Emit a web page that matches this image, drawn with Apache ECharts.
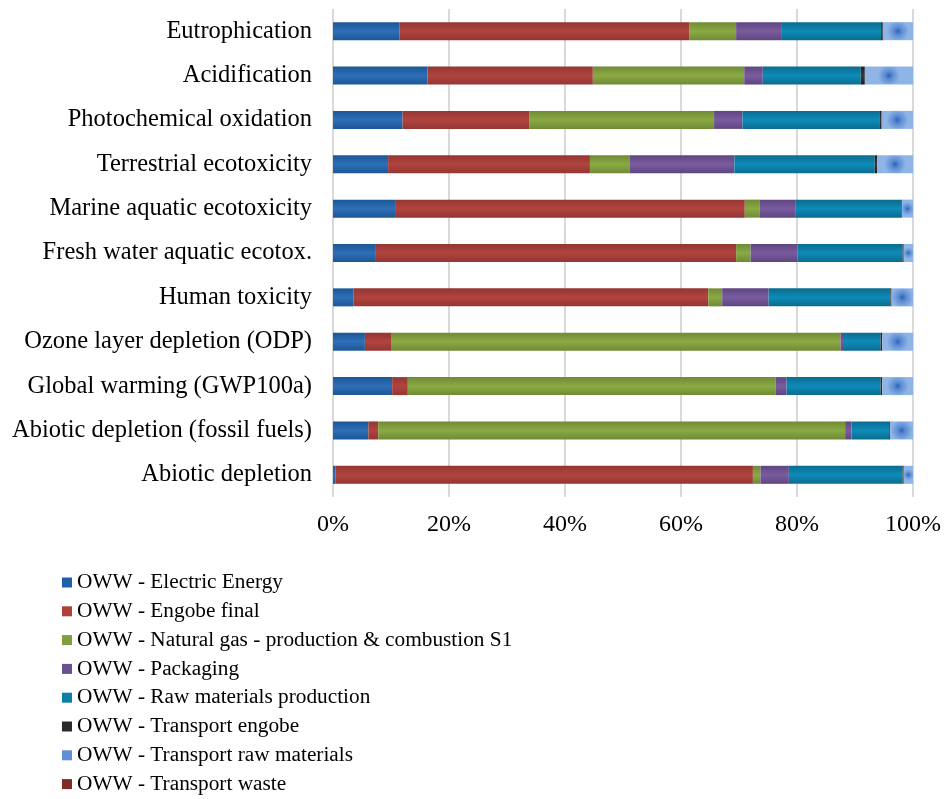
<!DOCTYPE html>
<html>
<head>
<meta charset="utf-8">
<script src="https://cdn.jsdelivr.net/npm/echarts@6/dist/echarts.min.js"></script>
<style>
  html, body { margin: 0; padding: 0; background: #ffffff; }
  #chart { width: 946px; height: 799px; }
</style>
</head>
<body>
<div id="chart"></div>
<script>
// Impact categories, listed top to bottom
const categories = [
  'Eutrophication',
  'Acidification',
  'Photochemical oxidation',
  'Terrestrial ecotoxicity',
  'Marine aquatic ecotoxicity',
  'Fresh water aquatic ecotox.',
  'Human toxicity',
  'Ozone layer depletion (ODP)',
  'Global warming (GWP100a)',
  'Abiotic depletion (fossil fuels)',
  'Abiotic depletion'
];

// Share (%) of each contributor per impact category
const electricEnergy      = [11.5, 16.3, 12.0,  9.5, 10.7,  7.4,  3.5,  5.5, 10.2,  6.1,  0.4];
const engobeFinal         = [49.9, 28.5, 21.9, 34.8, 60.3, 62.1, 61.2,  4.5,  2.7,  1.7, 72.0];
const naturalGas          = [ 8.1, 26.1, 31.8,  6.8,  2.6,  2.5,  2.4, 77.5, 63.4, 80.5,  1.3];
const packaging           = [ 7.9,  3.2,  4.9, 18.1,  6.2,  8.1,  8.0,  0.6,  1.9,  1.1,  4.9];
const rawMaterials        = [17.1, 16.9, 23.7, 24.2, 18.2, 18.1, 21.0,  6.3, 16.2,  6.5, 19.6];
const transportEngobe     = [ 0.3,  0.7,  0.3,  0.4,  0.1,  0.2,  0.2,  0.3,  0.3,  0.2,  0.2];
const transportRaw        = [ 5.2,  8.3,  5.4,  6.2,  1.9,  1.6,  3.7,  5.3,  5.3,  3.9,  1.6];
const transportWaste      = [ 0.0,  0.0,  0.0,  0.0,  0.0,  0.0,  0.0,  0.0,  0.0,  0.0,  0.0];

const xTickLabels = ['0%', '20%', '40%', '60%', '80%', '100%'];

const seriesDefs = [
  { name: 'OWW - Electric Energy', data: electricEnergy, edge: '#1c5796', mid: '#2e6fb8' },
  { name: 'OWW - Engobe final', data: engobeFinal, edge: '#943633', mid: '#b0443f' },
  { name: 'OWW - Natural gas - production & combustion S1', data: naturalGas, edge: '#708a34', mid: '#8aaa44' },
  { name: 'OWW - Packaging', data: packaging, edge: '#5e4681', mid: '#7a5c9e' },
  { name: 'OWW - Raw materials production', data: rawMaterials, edge: '#0b6c8f', mid: '#0e8bb8' },
  { name: 'OWW - Transport engobe', data: transportEngobe, edge: '#1e1e1e', mid: '#3a3a3a' },
  { name: 'OWW - Transport raw materials', data: transportRaw, edge: '#8fb4e6', mid: '#2f62b4', radial: true },
  { name: 'OWW - Transport waste', data: transportWaste, edge: '#7a2a28', mid: '#8e3431' }
];

function fillFor(d) {
  if (d.radial) {
    return {
      type: 'radial', x: 0.5, y: 0.5, r: 0.6,
      colorStops: [
        { offset: 0, color: d.mid },
        { offset: 0.35, color: '#5a8bd2' },
        { offset: 1, color: d.edge }
      ]
    };
  }
  return {
    type: 'linear', x: 0, y: 0, x2: 0, y2: 1,
    colorStops: [
      { offset: 0, color: d.edge },
      { offset: 0.5, color: d.mid },
      { offset: 1, color: d.edge }
    ]
  };
}

const series = seriesDefs.map(d => ({
  name: d.name,
  type: 'bar',
  stack: 'total',
  barWidth: 18,
  data: d.data,
  itemStyle: { color: fillFor(d) },
  emphasis: { disabled: true }
}));

const legendColors = ['#2060a8', '#b03e3a', '#7f9e3e', '#6b5090', '#0c7fa6', '#2a2a2a', '#5f8fd4', '#7e2b2a'];

const chart = echarts.init(document.getElementById('chart'), null, { renderer: 'canvas' });
chart.setOption({
  animation: false,
  backgroundColor: '#ffffff',
  textStyle: { fontFamily: 'Liberation Serif' },
  grid: { left: 333, right: 33, top: 9, bottom: 302, containLabel: false },
  xAxis: {
    type: 'value',
    min: 0,
    max: 100,
    interval: 20,
    axisLine: { show: false },
    axisTick: { show: false },
    splitLine: { show: true, lineStyle: { color: '#d9d9d9', width: 2 } },
    axisLabel: {
      margin: 16,
      fontSize: 24,
      color: '#000',
      fontFamily: 'Liberation Serif',
      formatter: v => xTickLabels[Math.round(v / 20)]
    }
  },
  yAxis: {
    type: 'category',
    inverse: true,
    data: categories,
    axisLine: { show: false },
    axisTick: { show: false },
    axisLabel: { margin: 21, fontSize: 24.5, color: '#000', fontFamily: 'Liberation Serif', padding: [4, 0, 0, 0] }
  },
  legend: {
    orient: 'vertical',
    left: 62,
    top: 572,
    padding: 0,
    itemWidth: 10,
    itemHeight: 10,
    itemGap: 7.8,
    icon: 'rect',
    textStyle: { fontSize: 21.3, color: '#000', fontFamily: 'Liberation Serif' },
    data: seriesDefs.map((d, i) => ({ name: d.name, itemStyle: { color: legendColors[i] } })),
    selectedMode: false
  },
  series: series
});
</script>
</body>
</html>
